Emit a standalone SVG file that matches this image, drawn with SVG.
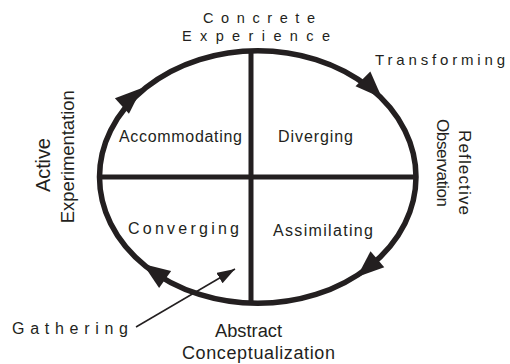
<svg xmlns="http://www.w3.org/2000/svg" width="510" height="364" viewBox="0 0 510 364">
<defs>
<style>
.ring{fill:none;stroke:#231f20;stroke-width:5.5}
.axis{stroke:#231f20;stroke-width:5}
.head{fill:#231f20}
.ptr{stroke:#231f20;stroke-width:1.5;fill:none}
text{font-family:"Liberation Sans",Arial,sans-serif;fill:#231f20}
.pole{font-size:14.5px}
.quad{font-size:16px}
.big{font-size:18px}
</style>
<path id="ah" class="head" d="M0,0 L-27,-10.5 L-27,10.5 Z"/>
<marker id="ptrhead" markerUnits="userSpaceOnUse" markerWidth="20" markerHeight="14" refX="18" refY="6" orient="auto">
<path d="M0,0 L18,6 L0,12 Z" fill="#231f20"/>
</marker>
</defs>
<rect width="510" height="364" fill="#ffffff"/>
<g id="cycle">
<ellipse class="ring" cx="257.75" cy="177" rx="158.25" ry="126.3"/>
<line class="axis" x1="251" y1="50" x2="251" y2="303"/>
<line class="axis" x1="99" y1="177" x2="416" y2="177"/>
</g>
<g id="connectors">
<use href="#ah" transform="translate(142,88) rotate(-42)"/>
<use href="#ah" transform="translate(382,98) rotate(45)"/>
<use href="#ah" transform="translate(357,277) rotate(139)"/>
<use href="#ah" transform="translate(143,264) rotate(215)"/>
<line class="ptr" x1="136" y1="327" x2="235" y2="269" marker-end="url(#ptrhead)"/>
</g>
<g id="concrete-experience">
<text class="pole" x="203" y="22.5" textLength="112" lengthAdjust="spacing">Concrete</text>
<text class="pole" x="182" y="41" textLength="148" lengthAdjust="spacing">Experience</text>
</g>
<g id="transforming">
<text x="375" y="65" font-size="15" textLength="130" lengthAdjust="spacing">Transforming</text>
</g>
<g id="reflective-observation">
<text font-size="17" text-anchor="middle" transform="translate(458.5,172.5) rotate(90)" textLength="85" lengthAdjust="spacing">Reflective</text>
<text font-size="17" text-anchor="middle" transform="translate(437,163) rotate(90)" textLength="88" lengthAdjust="spacing">Observation</text>
</g>
<g id="active-experimentation">
<text font-size="20" text-anchor="middle" transform="translate(50,165) rotate(-90)" textLength="54" lengthAdjust="spacing">Active</text>
<text font-size="18.5" text-anchor="middle" transform="translate(73.5,156.7) rotate(-90)" textLength="133" lengthAdjust="spacing">Experimentation</text>
</g>
<g id="accommodating">
<text class="quad" x="119" y="142" textLength="123" lengthAdjust="spacing">Accommodating</text>
</g>
<g id="diverging">
<text class="quad" x="278" y="142" textLength="75" lengthAdjust="spacing">Diverging</text>
</g>
<g id="converging">
<text class="quad" x="128" y="233.5" textLength="111" lengthAdjust="spacing">Converging</text>
</g>
<g id="assimilating">
<text class="quad" x="273" y="235.5" textLength="100" lengthAdjust="spacing">Assimilating</text>
</g>
<g id="gathering">
<text x="12" y="334" font-size="16" textLength="116" lengthAdjust="spacing">Gathering</text>
</g>
<g id="abstract-conceptualization">
<text class="big" x="215" y="337" textLength="67" lengthAdjust="spacingAndGlyphs">Abstract</text>
<text class="big" x="182" y="359" textLength="153" lengthAdjust="spacing">Conceptualization</text>
</g>
</svg>
